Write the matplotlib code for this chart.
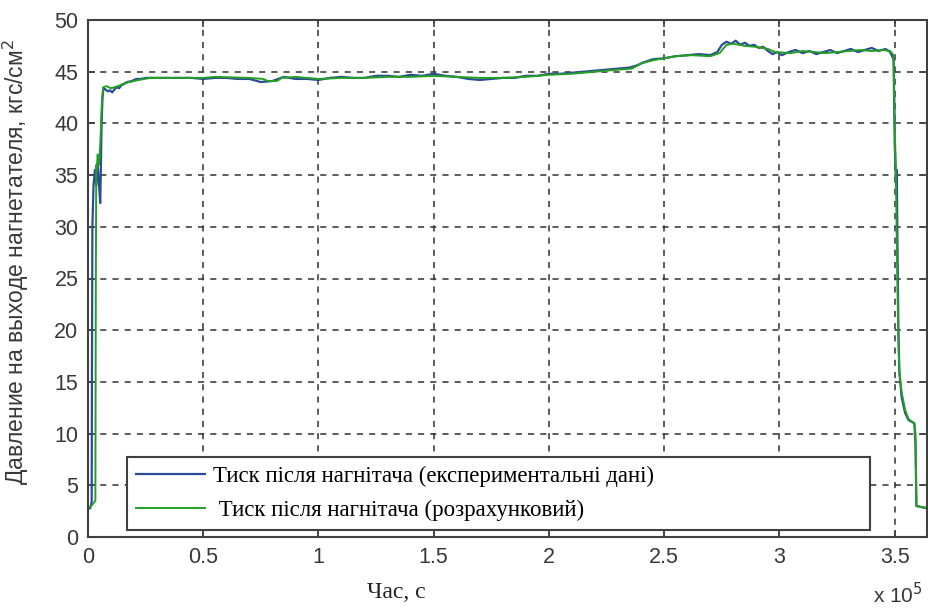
import matplotlib
matplotlib.use("Agg")
import matplotlib.pyplot as plt
from matplotlib.ticker import FuncFormatter

# ---- data (time in seconds, pressure in kgf/cm^2) ----
t_calc = [0, 1000, 3200, 3400, 3600, 3800, 4200, 4600, 5000, 5500,
          6000, 6600, 8000, 10000, 13000, 16000, 18000, 22000, 27000, 35000,
          45000, 50000, 55000, 62000, 70000, 76000, 78000, 82000, 84000, 90000,
          100000, 110000, 120000, 130000, 140000, 150000, 160000, 170000, 180000, 190000,
          200000, 210000, 220000, 230000, 236000, 240000, 245000, 250000, 255000, 262000,
          270000, 274000, 277000, 280000, 285000, 290000, 295000, 298000, 305000, 310000,
          315000, 320000, 325000, 330000, 335000, 340000, 345000, 348000, 349500, 350000,
          350500, 351000, 351500, 352000, 353000, 354500, 356000, 358500, 359000, 359400,
          363700]
p_calc = [2.8, 2.9, 3.5, 25, 36, 35.5, 37, 36, 36.5, 39,
          42, 43.5, 43.6, 43.4, 43.6, 43.9, 44.0, 44.2, 44.4, 44.4,
          44.4, 44.4, 44.5, 44.45, 44.4, 44.3, 44.1, 44.1, 44.4, 44.5,
          44.3, 44.4, 44.4, 44.5, 44.5, 44.6, 44.5, 44.4, 44.4, 44.5,
          44.7, 44.8, 45.0, 45.2, 45.3, 45.8, 46.1, 46.3, 46.5, 46.6,
          46.5, 46.8, 47.6, 47.7, 47.5, 47.4, 47.2, 46.9, 46.8, 47.0,
          46.9, 46.8, 46.9, 47.0, 47.1, 47.0, 47.1, 47.0, 46.6, 40,
          35, 27, 20, 16, 14, 12.3, 11.4, 11.0, 10, 3.0,
          2.8]

t_exp = [0, 1000, 1600, 1700, 1900, 2400, 3000, 3600, 4200, 4800,
         5300, 5600, 5900, 6300, 6700, 7500, 8500, 9500, 10500, 11500,
         12500, 13500, 14500, 15500, 17000, 19000, 21000, 23000, 25000, 28000,
         31000, 35000, 40000, 45000, 50000, 55000, 60000, 65000, 70000, 75000,
         80000, 85000, 90000, 95000, 100000, 105000, 110000, 115000, 120000, 125000,
         130000, 135000, 140000, 145000, 150000, 155000, 160000, 165000, 170000, 175000,
         180000, 185000, 190000, 195000, 200000, 205000, 210000, 215000, 220000, 225000,
         230000, 235000, 238000, 241000, 245000, 250000, 255000, 260000, 265000, 270000,
         273000, 275000, 277000, 279000, 281000, 283000, 285000, 287000, 289000, 291000,
         293000, 295000, 297000, 299000, 301000, 304000, 307000, 310000, 313000, 316000,
         319000, 322000, 325000, 328000, 331000, 334000, 337000, 340000, 343000, 346000,
         348000, 349500, 350000, 350300, 350600, 350900, 351200, 351600, 352000, 353000,
         354500, 356000, 358500, 359000, 359400, 363700]
p_exp = [2.7, 2.8, 3.4, 15, 30, 34, 35.5, 34, 36, 34,
         32.3, 36, 40, 42.5, 43.4, 43.3, 43.1, 43.2, 43.0, 43.3,
         43.5, 43.4, 43.7, 43.8, 44.0, 44.1, 44.3, 44.3, 44.4, 44.4,
         44.4, 44.4, 44.4, 44.4, 44.3, 44.4, 44.4, 44.3, 44.3, 44.0,
         44.1, 44.5, 44.3, 44.3, 44.2, 44.4, 44.5, 44.4, 44.4, 44.6,
         44.6, 44.5, 44.7, 44.6, 44.8, 44.6, 44.5, 44.3, 44.2, 44.3,
         44.4, 44.4, 44.6, 44.6, 44.8, 44.8, 44.9, 45.0, 45.1, 45.2,
         45.3, 45.4, 45.6, 45.9, 46.2, 46.3, 46.5, 46.6, 46.7, 46.6,
         46.9, 47.6, 47.9, 47.7, 48.0, 47.6, 47.8, 47.5, 47.6, 47.3,
         47.4, 47.0, 46.7, 46.9, 46.6, 46.9, 47.1, 46.8, 47.0, 46.7,
         46.9, 47.1, 46.8, 47.0, 47.2, 46.9, 47.1, 47.3, 47.0, 47.2,
         46.9, 46.2, 38, 36, 34, 35.5, 28, 20, 16, 13.5,
         12.0, 11.3, 11.0, 9, 3.0, 2.8]

labels = ["Тиск після нагнітача (експериментальні дані)",
          " Тиск після нагнітача (розрахунковий)"]
x_ticks = [0, 50000, 100000, 150000, 200000, 250000, 300000, 350000]
y_ticks = [0, 5, 10, 15, 20, 25, 30, 35, 40, 45, 50]

assert len(t_calc) == len(p_calc) and len(t_exp) == len(p_exp)

# ---- figure ----
fig = plt.figure(figsize=(9.29, 6.10), dpi=100)
ax = fig.add_axes([88/929, 1-537/610, (927-88)/929, (537-20)/610])

l1, = ax.plot(t_exp, p_exp, color="#2b4a9a", lw=1.6, label=labels[0])
l2, = ax.plot(t_calc, p_calc, color="#23a023", lw=1.4, label=labels[1])

ax.set_xlim(0, 364000)
ax.set_ylim(0, 50)
ax.set_xticks(x_ticks)
ax.set_yticks(y_ticks)
ax.xaxis.set_major_formatter(FuncFormatter(lambda v, p: f"{v/1e5:g}"))

sans = "Liberation Sans"
serif = "Liberation Serif"
for lab in ax.get_xticklabels() + ax.get_yticklabels():
    lab.set_fontfamily(sans)
    lab.set_fontsize(15.5)

ax.tick_params(direction="in", length=5, width=1.2, top=True, right=True,
               colors="#404040", labelcolor="#383838", pad=7)
for s in ax.spines.values():
    s.set_color("#404040")
    s.set_linewidth(1.5)

ax.grid(True, linestyle=(0, (4, 4)), color="#303030", linewidth=1.1)

ax.set_ylabel("Давление на выходе нагнетателя, кгс/см$^2$", family=sans,
              fontsize=16.5, color="#383838")
ax.yaxis.set_label_coords(-0.068, 0.532)
ax.set_xlabel("Час, с", family=serif, fontsize=17, color="#222222")
ax.xaxis.set_label_coords(0.368, -0.088)

fig.text(873/929, 0.004, "x 10$^5$", family=sans, fontsize=15,
         color="#383838", ha="left", va="bottom")

leg = ax.legend(handles=[l1, l2], loc="lower left",
                bbox_to_anchor=((127-88)/839, (537-530)/517, (870-127)/839, (530-455)/517),
                mode="expand", prop={"family": serif, "size": 16.5},
                frameon=True, fancybox=False, edgecolor="#404040",
                handlelength=3.0, handletextpad=0.35, borderaxespad=0,
                labelspacing=0.55, borderpad=0.4)
leg.get_frame().set_linewidth(1.5)
leg.get_frame().set_alpha(1)

fig.savefig("out.png", dpi=100)
